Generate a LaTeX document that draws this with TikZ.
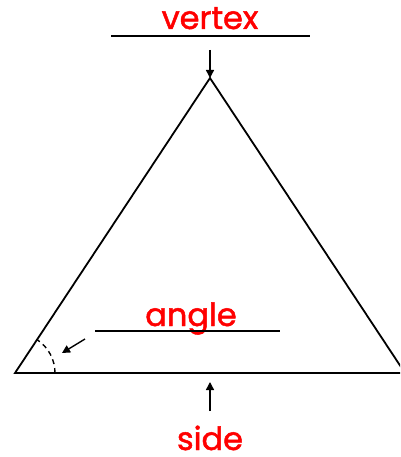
\documentclass[tikz,border=0pt]{standalone}
\usepackage{fontspec}
\setmainfont{Poppins}[FakeBold=1.5]
\usetikzlibrary{arrows.meta}
\definecolor{lblred}{RGB}{255,0,0}
\tikzset{
  lbl/.style={text=lblred, font=\fontsize{32}{34}\selectfont, inner sep=0pt, anchor=base, text depth=0pt},
  rule/.style={line width=1.4pt},
  edge/.style={line width=1.8pt},
  pointer/.style={line width=1.4pt, -{Triangle[length=8pt,width=8pt]}},
}
\begin{document}
\begin{tikzpicture}[x=1pt,y=-1pt]
\useasboundingbox (0,0) rectangle (400,457);
% triangle
\coordinate (A) at (15,373);
\coordinate (B) at (210,78);
\coordinate (C) at (405,373);
\begin{scope}
\clip (0,0) rectangle (400,457);
\draw[edge, line join=miter] (A) -- (B) -- (C) -- cycle;
\end{scope}
% angle arc
\draw[line width=1.4pt, dash pattern=on 5pt off 4pt] (55,373) arc[start angle=0, end angle=-56.5, radius=40];
% vertex label
\node[lbl] (vt) at (210,29) {vertex};
\coordinate (v1) at (111,36);
\coordinate (v2) at (310,36);
\draw[rule] (v1) -- (v2);
\coordinate (va) at (210,50);
\draw[pointer] (va) -- (B);
% angle label
\node[lbl] (an) at (191,326) {angle};
\coordinate (a1) at (95,331);
\coordinate (a2) at (280,331);
\draw[rule] (a1) -- (a2);
\coordinate (aa) at (85,339);
\coordinate (ab) at (62,353);
\draw[pointer] (aa) -- (ab);
% side label
\node[lbl] (sd) at (210,450) {side};
\coordinate (sa) at (210,411);
\coordinate (sb) at (210,382);
\draw[pointer] (sa) -- (sb);
\end{tikzpicture}
\end{document}
